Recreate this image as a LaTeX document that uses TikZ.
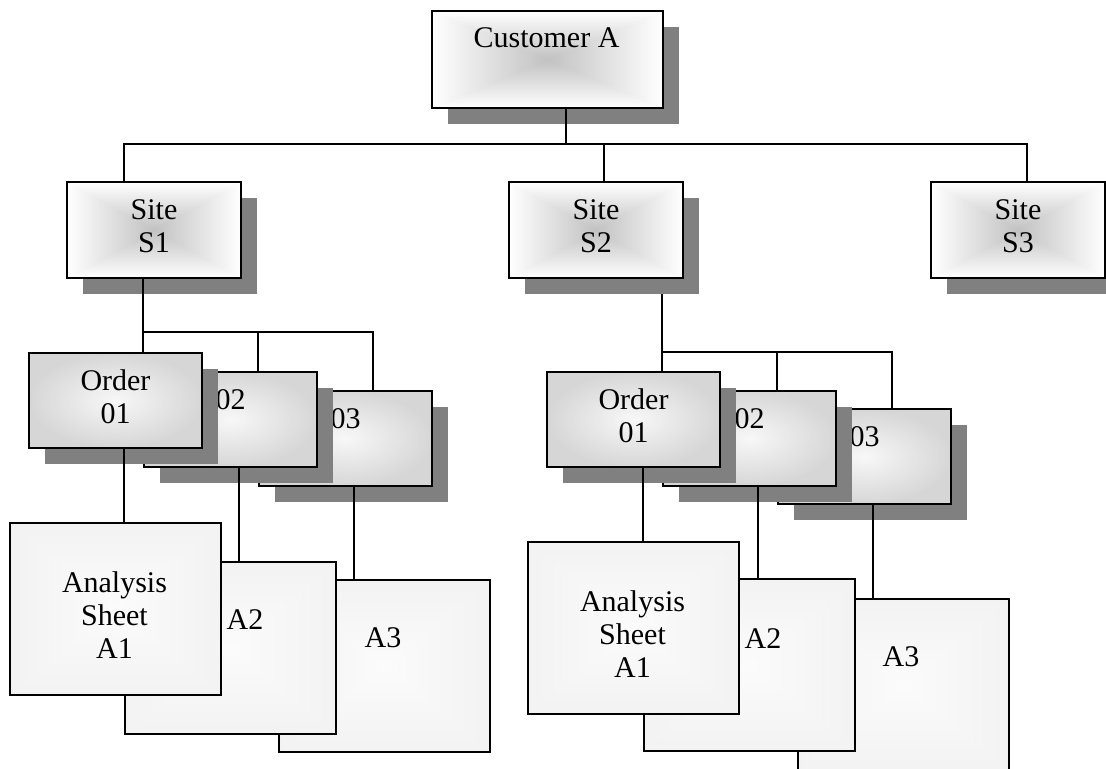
\documentclass[tikz,border=0pt]{standalone}
\usepackage{fontspec}
\setmainfont{Liberation Serif}
\usetikzlibrary{shadows}

\pgfdeclarelayer{background}
\pgfsetlayers{background,main}

\pgfdeclarefunctionalshading{sitefade}{\pgfpoint{0bp}{0bp}}{\pgfpoint{100bp}{100bp}}{}{
  50 sub abs 25 div exch 50 sub abs 25 div
  2 copy lt {exch} if pop
  dup 1 gt {pop 1} if
  0.24 mul 0.76 add dup dup
}
\pgfdeclarefunctionalshading{sheetfade}{\pgfpoint{0bp}{0bp}}{\pgfpoint{100bp}{100bp}}{}{
  50 sub abs 25 div exch 50 sub abs 25 div
  2 copy lt {exch} if pop
  dup 1 gt {pop 1} if
  -0.035 mul 0.985 add dup dup
}

\tikzset{
  box/.style={draw, line width=1pt, inner sep=0pt, anchor=north west, align=center,
    font=\fontsize{15}{16.5}\selectfont},
  twoline/.style={text height=26.5pt, text depth=4pt},
  shadowed/.style={drop shadow={shadow xshift=8pt, shadow yshift=-8pt, opacity=1, fill=black!50}},
  custbox/.style={box, shadowed, shade, shading=sitefade, minimum width=115.5pt, minimum height=48.5pt},
  sitebox/.style={box, twoline, shadowed, shade, shading=sitefade, minimum width=87pt, minimum height=48pt},
  orderbox/.style={box, twoline, shadowed, inner color=black!3, outer color=black!16, minimum width=86.5pt, minimum height=47.5pt},
  sheetbox/.style={box, shade, shading=sheetfade, minimum width=105.5pt, minimum height=86pt},
  txt/.style={inner sep=0pt, align=center, font=\fontsize{15}{16.5}\selectfont},
  wire/.style={line width=0.75pt}
}

\begin{document}
\begin{tikzpicture}[x=0.5pt, y=-0.5pt]
    \useasboundingbox (0,0) rectangle (1106,769);

    \node[custbox] (cust) at (431,10) {};
    \node[txt, anchor=base] (custtxt) at (546.5,48) {Customer A};

    \node[sitebox] (s1) at (66,181) {Site\\S1};
    \node[sitebox] (s2) at (508,181) {Site\\S2};
    \node[sitebox] (s3) at (930,181) {Site\\S3};

    \node[orderbox] (o3l) at (258,390) {03\\~};
    \node[orderbox] (o2l) at (143,371) {02\\~};
    \node[orderbox] (o1l) at (28,352) {Order\\01};
    \node[orderbox] (o3r) at (777,408) {03\\~};
    \node[orderbox] (o2r) at (662,390) {02\\~};
    \node[orderbox] (o1r) at (546,371) {Order\\01};

    \node[sheetbox] (a3l) at (278,579) {};
    \node[txt, anchor=base] (a3ltxt) at (383,647) {A3};
    \node[sheetbox] (a2l) at (124,561) {};
    \node[txt, anchor=base] (a2ltxt) at (245,629) {A2};
    \node[sheetbox] (a1l) at (9,522) {};
    \node[txt] (a1ltxt) at (114.5,615) {Analysis\\Sheet\\A1};
    \node[sheetbox] (a3r) at (797,598) {};
    \node[txt, anchor=base] (a3rtxt) at (901,666) {A3};
    \node[sheetbox] (a2r) at (643,578) {};
    \node[txt, anchor=base] (a2rtxt) at (763,648) {A2};
    \node[sheetbox] (a1r) at (527,541) {};
    \node[txt] (a1rtxt) at (632.5,634) {Analysis\\Sheet\\A1};

    \coordinate (cbus) at (566,144);
    \coordinate (bus1) at (124,144);
    \coordinate (bus2) at (604,144);
    \coordinate (bus3) at (1027,144);
    \draw[wire] (cust.south -| cbus) -- (cbus);
    \draw[wire] (bus1 |- s1.north) -- (bus1) -- (bus3) -- (bus3 |- s3.north);
    \draw[wire] (bus2) -- (bus2 |- s2.north);

    \coordinate (lbus1) at (143,332);
    \coordinate (lbus2) at (258,332);
    \coordinate (lbus3) at (373,332);
    \draw[wire] (s1.south -| lbus1) -- (lbus1 |- o1l.north);
    \draw[wire] (lbus1) -- (lbus3) -- (lbus3 |- o3l.north);
    \draw[wire] (lbus2) -- (lbus2 |- o2l.north);

    \coordinate (rbus1) at (662,352);
    \coordinate (rbus2) at (777,352);
    \coordinate (rbus3) at (892,352);
    % runs under the shadow of S2
    \begin{pgfonlayer}{background}
    \draw[wire] (s2.south -| rbus1) -- (rbus1 |- o1r.north);
    \end{pgfonlayer}
    \draw[wire] (rbus1) -- (rbus3) -- (rbus3 |- o3r.north);
    \draw[wire] (rbus2) -- (rbus2 |- o2r.north);

    \draw[wire] (o1l.south -| 124,0) -- (a1l.north -| 124,0);
    \draw[wire] (o2l.south -| 239,0) -- (a2l.north -| 239,0);
    \draw[wire] (o3l.south -| 354,0) -- (a3l.north -| 354,0);
    \draw[wire] (o1r.south -| 643,0) -- (a1r.north -| 643,0);
    \draw[wire] (o2r.south -| 758,0) -- (a2r.north -| 758,0);
    \draw[wire] (o3r.south -| 873,0) -- (a3r.north -| 873,0);
\end{tikzpicture}
\end{document}
